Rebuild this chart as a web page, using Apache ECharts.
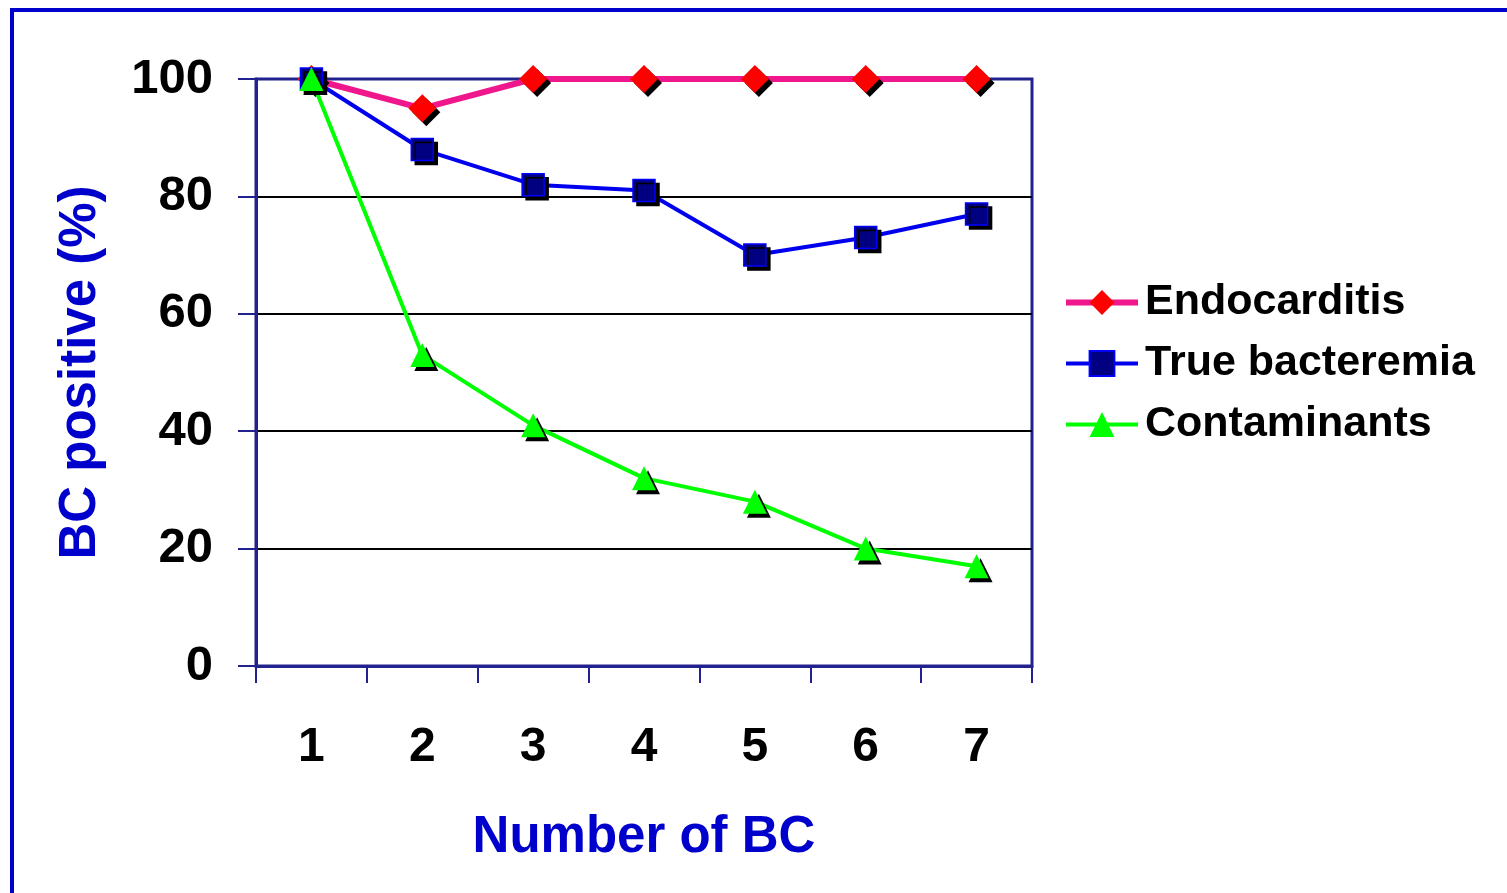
<!DOCTYPE html>
<html>
<head>
<meta charset="utf-8">
<script src="https://cdn.jsdelivr.net/npm/echarts@6/dist/echarts.min.js"></script>
<style>
html,body{margin:0;padding:0;background:#fff;}
#chart{width:1507px;height:893px;}
</style>
</head>
<body>
<div id="chart"></div>
<script>
var categories = ['1','2','3','4','5','6','7'];
var endocarditis = [100, 95, 100, 100, 100, 100, 100];
var trueBacteremia = [100, 88, 82, 81, 70, 73, 77];
var contaminants = [100, 53, 41, 32, 28, 20, 17];
var seriesNames = ['Endocarditis', 'True bacteremia', 'Contaminants'];

var FONT = '"Liberation Sans", Arial, sans-serif';
var AXIS = '#22228f';
var shadow = {shadowColor:'#000', shadowOffsetX:4, shadowOffsetY:4, shadowBlur:0};
var noShadow = {shadowColor: 'rgba(0,0,0,0)', shadowOffsetX: 0, shadowOffsetY: 0, shadowBlur: 0};

var chart = echarts.init(document.getElementById('chart'), null, {renderer:'canvas'});
chart.setOption({
  animation: false,
  backgroundColor: '#fff',
  textStyle: {fontFamily: FONT},
  graphic: [{
    type: 'rect', silent: true, z: -10,
    shape: {x: 12, y: 10, width: 1700, height: 1100},
    style: {fill: 'none', stroke: '#0000cc', lineWidth: 4}
  }],
  grid: {
    left: 256, right: 475, top: 79, bottom: 227,
    show: true, borderColor: AXIS, borderWidth: 3, backgroundColor: 'transparent'
  },
  legend: {
    orient: 'vertical',
    left: 1063, top: 281, padding: 0,
    itemWidth: 72, itemHeight: 31, itemGap: 18,
    data: [
      {name: seriesNames[0], lineStyle: {width: 6, color: '#f0168c'}},
      {name: seriesNames[1], lineStyle: {width: 4, color: '#0000ee'}},
      {name: seriesNames[2], lineStyle: {width: 4, color: '#00ff00'}}
    ],
    textStyle: {fontFamily: FONT, fontSize: 43, fontWeight: 'bold', color: '#000', padding: [0,0,0,2]},
    itemStyle: noShadow
  },
  xAxis: {
    type: 'category',
    data: categories,
    boundaryGap: true,
    name: 'Number of BC',
    nameLocation: 'middle',
    nameGap: 146,
    nameTextStyle: {fontFamily: FONT, fontSize: 51, fontWeight: 'bold', color: '#0000cc'},
    axisLine: {show: true, lineStyle: {color: AXIS, width: 3}},
    axisTick: {show: true, length: 17, alignWithLabel: false, lineStyle: {color: AXIS, width: 2}},
    axisLabel: {fontFamily: FONT, fontSize: 48, fontWeight: 'bold', color: '#000', margin: 58},
    splitLine: {show: false}
  },
  yAxis: {
    type: 'value',
    min: 0, max: 100, interval: 20,
    name: 'BC positive (%)',
    nameLocation: 'middle',
    nameRotate: 90,
    nameGap: 150,
    nameTextStyle: {fontFamily: FONT, fontSize: 51, fontWeight: 'bold', color: '#0000cc'},
    axisLine: {show: true, lineStyle: {color: AXIS, width: 3}},
    axisTick: {show: true, length: 18, lineStyle: {color: AXIS, width: 2}},
    axisLabel: {fontFamily: FONT, fontSize: 49, fontWeight: 'bold', color: '#000', margin: 43},
    splitLine: {show: true, lineStyle: {color: [AXIS, '#000', '#000', '#000', '#000', AXIS], width: 2}}
  },
  series: [{
    name: seriesNames[0], type: 'line', data: endocarditis,
    symbol: 'diamond', symbolSize: 28,
    lineStyle: {color: '#f0168c', width: 6},
    itemStyle: Object.assign({color: '#ff0000', borderWidth: 0}, shadow),
    z: 2
  }, {
    name: seriesNames[1], type: 'line', data: trueBacteremia,
    symbol: 'rect', symbolSize: 22,
    lineStyle: {color: '#0000ee', width: 4},
    itemStyle: Object.assign({color: '#000080', borderColor: '#0000ff', borderWidth: 1.5}, shadow),
    z: 3
  }, {
    name: seriesNames[2], type: 'line', data: contaminants,
    symbol: 'triangle', symbolSize: 24,
    lineStyle: {color: '#00ff00', width: 4},
    itemStyle: Object.assign({color: '#00ff00', borderWidth: 0}, shadow),
    z: 4
  }]
});
</script>
</body>
</html>
